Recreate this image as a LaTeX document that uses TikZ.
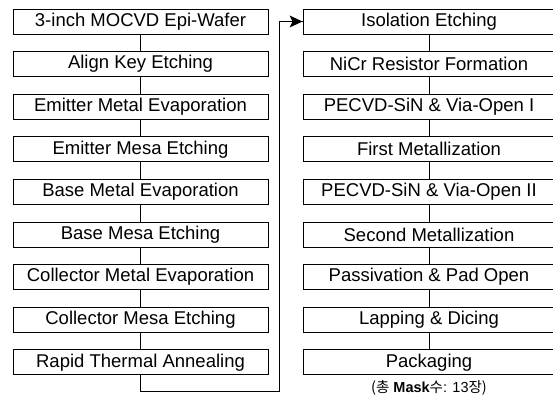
\documentclass[tikz,border=0pt]{standalone}
\usepackage{fontspec}
\setmainfont{Liberation Sans}
\newfontfamily\krfont{Noto Sans CJK KR}
\usetikzlibrary{arrows.meta}
\begin{document}
\begin{tikzpicture}[x=1pt,y=1pt,
  stepbox/.style={draw, line width=0.9pt, minimum height=25pt, inner sep=0pt,
    font=\fontsize{18.5}{21}\selectfont},
  leftbox/.style={stepbox, minimum width=255pt},
  rightbox/.style={stepbox, minimum width=252pt},
  link/.style={line width=0.9pt},
  bigtip/.style={fill=black}]
\useasboundingbox (0,0) rectangle (553,-409);
\clip (0,0) rectangle (553,-409);
\foreach \n/\t [count=\i from 0] in {
  l1/3-inch MOCVD Epi-Wafer,
  l2/Align Key Etching,
  l3/Emitter Metal Evaporation,
  l4/Emitter Mesa Etching,
  l5/Base Metal Evaporation,
  l6/Base Mesa Etching,
  l7/Collector Metal Evaporation,
  l8/Collector Mesa Etching,
  l9/Rapid Thermal Annealing}
  \node[leftbox] (\n) at (140.5,{-21.5-42.6*\i}) {\t};
\foreach \n/\t [count=\i from 0] in {
  r1/Isolation Etching,
  r2/NiCr Resistor Formation,
  r3/PECVD-SiN \& Via-Open I,
  r4/First Metallization,
  r5/PECVD-SiN \& Via-Open II,
  r6/Second Metallization,
  r7/Passivation \& Pad Open,
  r8/Lapping \& Dicing,
  r9/Packaging}
  \node[rightbox] (\n) at (429,{-21.5-42.6*\i}) {\t};
\foreach \a/\b in {l1/l2,l2/l3,l3/l4,l4/l5,l5/l6,l6/l7,l7/l8,l8/l9,
                   r1/r2,r2/r3,r3/r4,r4/r5,r5/r6,r6/r7,r7/r8,r8/r9}
  \draw[link] (\a.south) -- (\b.north);
\coordinate (loop) at (279,-391);
\draw[link] (l9.south) |- (loop) |- (r1.west);
\fill[bigtip] (r1.west) -- ++(-13,6) -- ++(3,-6) -- ++(-3,-6) -- cycle;
\node[font=\fontsize{14.5}{17}\selectfont, inner sep=0pt] (note) at (429,-388)
  {{\krfont(총} {\bfseries Mask}{\krfont 수}: 13{\krfont 장)}};
\end{tikzpicture}
\end{document}
